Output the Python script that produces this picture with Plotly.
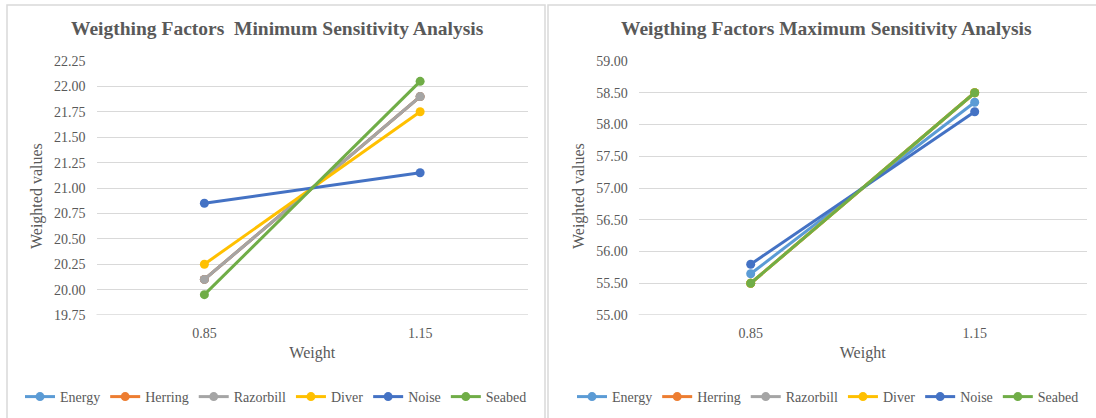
import plotly.graph_objects as go

# Weight levels on the category axis
weights = ["0.85", "1.15"]

series_names = ["Energy", "Herring", "Razorbill", "Diver", "Noise", "Seabed"]
series_colors = ["#5B9BD5", "#ED7D31", "#A5A5A5", "#FFC000", "#4472C4", "#70AD47"]

# Minimum sensitivity analysis: weighted values at each weight
min_energy = [20.10, 21.90]
min_herring = [20.10, 21.90]
min_razorbill = [20.10, 21.90]
min_diver = [20.25, 21.75]
min_noise = [20.85, 21.15]
min_seabed = [19.95, 22.05]

# Maximum sensitivity analysis: weighted values at each weight
max_energy = [55.65, 58.35]
max_herring = [55.50, 58.50]
max_razorbill = [55.50, 58.50]
max_diver = [55.50, 58.50]
max_noise = [55.80, 58.20]
max_seabed = [55.50, 58.50]

min_values = [min_energy, min_herring, min_razorbill, min_diver, min_noise, min_seabed]
max_values = [max_energy, max_herring, max_razorbill, max_diver, max_noise, max_seabed]

W, H = 1096, 418
FONT = "Liberation Serif"
TXT = "#595959"
GRID = "#D9D9D9"


def px(x):
    return x / W


def py(y):
    return 1 - y / H


fig = go.Figure()

for name, color, vals in zip(series_names, series_colors, min_values):
    fig.add_trace(go.Scatter(
        x=weights, y=vals, name=name, mode="lines+markers",
        line=dict(color=color, width=3), marker=dict(color=color, size=9),
        xaxis="x", yaxis="y", legend="legend",
    ))

for name, color, vals in zip(series_names, series_colors, max_values):
    fig.add_trace(go.Scatter(
        x=weights, y=vals, name=name, mode="lines+markers",
        line=dict(color=color, width=3), marker=dict(color=color, size=9),
        xaxis="x2", yaxis="y2", legend="legend2",
    ))

xaxis_common = dict(
    type="category", range=[-0.5, 1.5],
    showgrid=False, zeroline=False, showline=False, ticks="", automargin=False,
    ticklabelstandoff=8,
    tickfont=dict(family=FONT, size=14, color=TXT),
    title=dict(text="Weight", standoff=6, font=dict(family=FONT, size=16, color=TXT)),
)
yaxis_common = dict(
    showgrid=True, gridcolor=GRID, gridwidth=1.3, zeroline=False, showline=False,
    ticks="", tickformat=".2f", ticklabelstandoff=10, automargin=False,
    tickfont=dict(family=FONT, size=14, color=TXT),
)

legend_common = dict(
    orientation="h", xanchor="center", yanchor="middle",
    font=dict(family=FONT, size=14, color=TXT),
    itemwidth=30, tracegroupgap=0, bgcolor="rgba(0,0,0,0)",
)

fig.update_layout(
    width=W, height=H,
    font=dict(family=FONT, color=TXT),
    margin=dict(l=0, r=0, t=0, b=0, pad=0, autoexpand=False),
    paper_bgcolor="white", plot_bgcolor="white",
    xaxis=dict(domain=[px(96.5), px(528)], anchor="y", **xaxis_common),
    yaxis=dict(domain=[py(315), py(61)], range=[19.75, 22.25], dtick=0.25,
               anchor="x", **yaxis_common),
    xaxis2=dict(domain=[px(638.7), px(1086.7)], anchor="y2", **xaxis_common),
    yaxis2=dict(domain=[py(315), py(61)], range=[55.0, 59.0], dtick=0.5,
                anchor="x2", **yaxis_common),
    legend=dict(x=px(276), y=py(397), **legend_common),
    legend2=dict(x=px(828), y=py(397), **legend_common),
    showlegend=True,
)

# Chart-area borders for each panel
fig.add_shape(type="rect", xref="paper", yref="paper",
              x0=px(7), x1=px(545), y0=py(5), y1=py(425),
              line=dict(color=GRID, width=1.5), fillcolor="rgba(0,0,0,0)", layer="below")
fig.add_shape(type="rect", xref="paper", yref="paper",
              x0=px(548), x1=px(1105), y0=py(5), y1=py(425),
              line=dict(color=GRID, width=1.5), fillcolor="rgba(0,0,0,0)", layer="below")

# Bottom category-axis lines
for xa, ya, lo in (("x", "y", 19.75), ("x2", "y2", 55.0)):
    fig.add_shape(type="line", xref=f"{xa} domain", yref=ya, x0=0, x1=1, y0=lo, y1=lo,
                  line=dict(color=GRID, width=1.3), layer="below")

# Chart titles
titles = [
    ("Weigthing Factors  Minimum Sensitivity Analysis", 277),
    ("Weigthing Factors Maximum Sensitivity Analysis", 826),
]
for text, cx in titles:
    fig.add_annotation(
        text=f"<b>{text}</b>", xref="paper", yref="paper",
        x=px(cx), y=py(29), xanchor="center", yanchor="middle", showarrow=False,
        font=dict(family=FONT, size=19.5, color=TXT),
    )

# Vertical axis titles
for cx in (37, 579):
    fig.add_annotation(
        text="Weighted values", xref="paper", yref="paper", textangle=-90,
        x=px(cx), y=py(196), xanchor="center", yanchor="middle", showarrow=False,
        font=dict(family=FONT, size=16, color=TXT),
    )

fig.write_html("out.html")
